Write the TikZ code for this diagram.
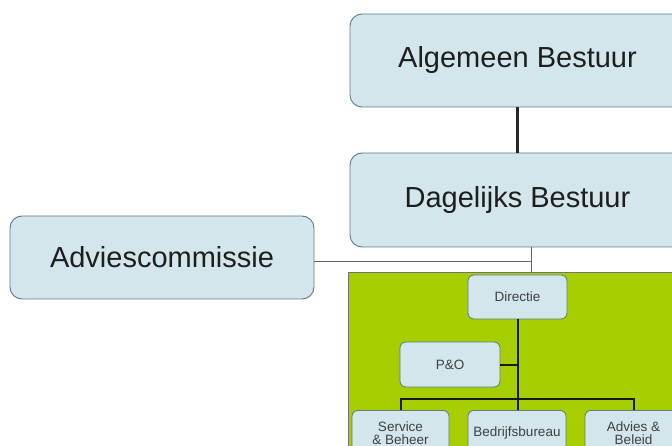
\documentclass[tikz,border=0pt]{standalone}
\usepackage{fontspec}
\setmainfont{Liberation Sans}
\begin{document}
\begin{tikzpicture}[x=1pt,y=-1pt,
  orgbox/.style={draw=boxline, fill=boxfill, line width=0.9pt, rounded corners=12pt,
    text=textdark, font=\fontsize{29}{32}\selectfont, inner sep=0pt},
  unitbox/.style={draw=boxline, fill=boxfill, line width=0.8pt, rounded corners=6pt,
    text=textsoft, font=\fontsize{13.5}{15}\selectfont, inner sep=0pt, align=center},
  heavy/.style={draw=black!85, line width=2.4pt},
  branch/.style={draw=black!90, line width=2pt},
  thin/.style={draw=black!60, line width=0.8pt}]
\definecolor{boxfill}{HTML}{D2E6EB}
\definecolor{boxline}{HTML}{5E7C84}
\definecolor{textdark}{HTML}{1E1E1E}
\definecolor{textsoft}{HTML}{404040}
\definecolor{staffgreen}{HTML}{A6CE00}
\useasboundingbox (0,0) rectangle (672,446);
\clip (0,0) rectangle (672,446);

% governing bodies
\node[orgbox, minimum width=335pt, minimum height=93pt] (alg) at (517.5,60.5) {Algemeen Bestuur};
\node[orgbox, minimum width=335pt, minimum height=94pt] (dag) at (517.5,200) {Dagelijks Bestuur};
\node[orgbox, minimum width=304pt, minimum height=83pt] (adv) at (162,257.5) {Adviescommissie};

% staff area
\node[draw=black!55, fill=staffgreen, line width=0.8pt, minimum width=360pt, minimum height=200pt,
  inner sep=0pt, anchor=north west] (staff) at (348,272) {};

\node[unitbox, minimum width=99pt, minimum height=44pt] (dir) at (517.5,297) {Directie};
\node[unitbox, minimum width=100pt, minimum height=45pt] (po) at (450,364.5) {P\&O};
\node[unitbox, minimum width=97pt, minimum height=46pt, anchor=north] (svc) at (400.5,410) {Service\\[-2pt]\& Beheer};
\node[unitbox, minimum width=98pt, minimum height=46pt, anchor=north] (bb) at (517,410) {Bedrijfsbureau};
\node[unitbox, minimum width=97pt, minimum height=46pt, anchor=north] (ab) at (633.5,410) {Advies \&\\[-2pt]Beleid};

% connectors between governing bodies
\draw[heavy] (alg.south) -- (dag.north);
\coordinate (junc) at (531,261);
\draw[thin] (dag.south -| junc) -- (staff.north -| junc);
\draw[thin] (junc -| adv.east) -- (junc);

% connectors inside the staff area
\coordinate (bar) at (517.5,399);
\draw[branch] (dir.south) -- (bar);
\draw[branch] (po.east) -- (po.east -| dir.south);
\draw[branch] (svc.north) |- (bar) -| (ab.north);
\draw[branch] (bar) -- (bar |- bb.north);
\end{tikzpicture}
\end{document}
